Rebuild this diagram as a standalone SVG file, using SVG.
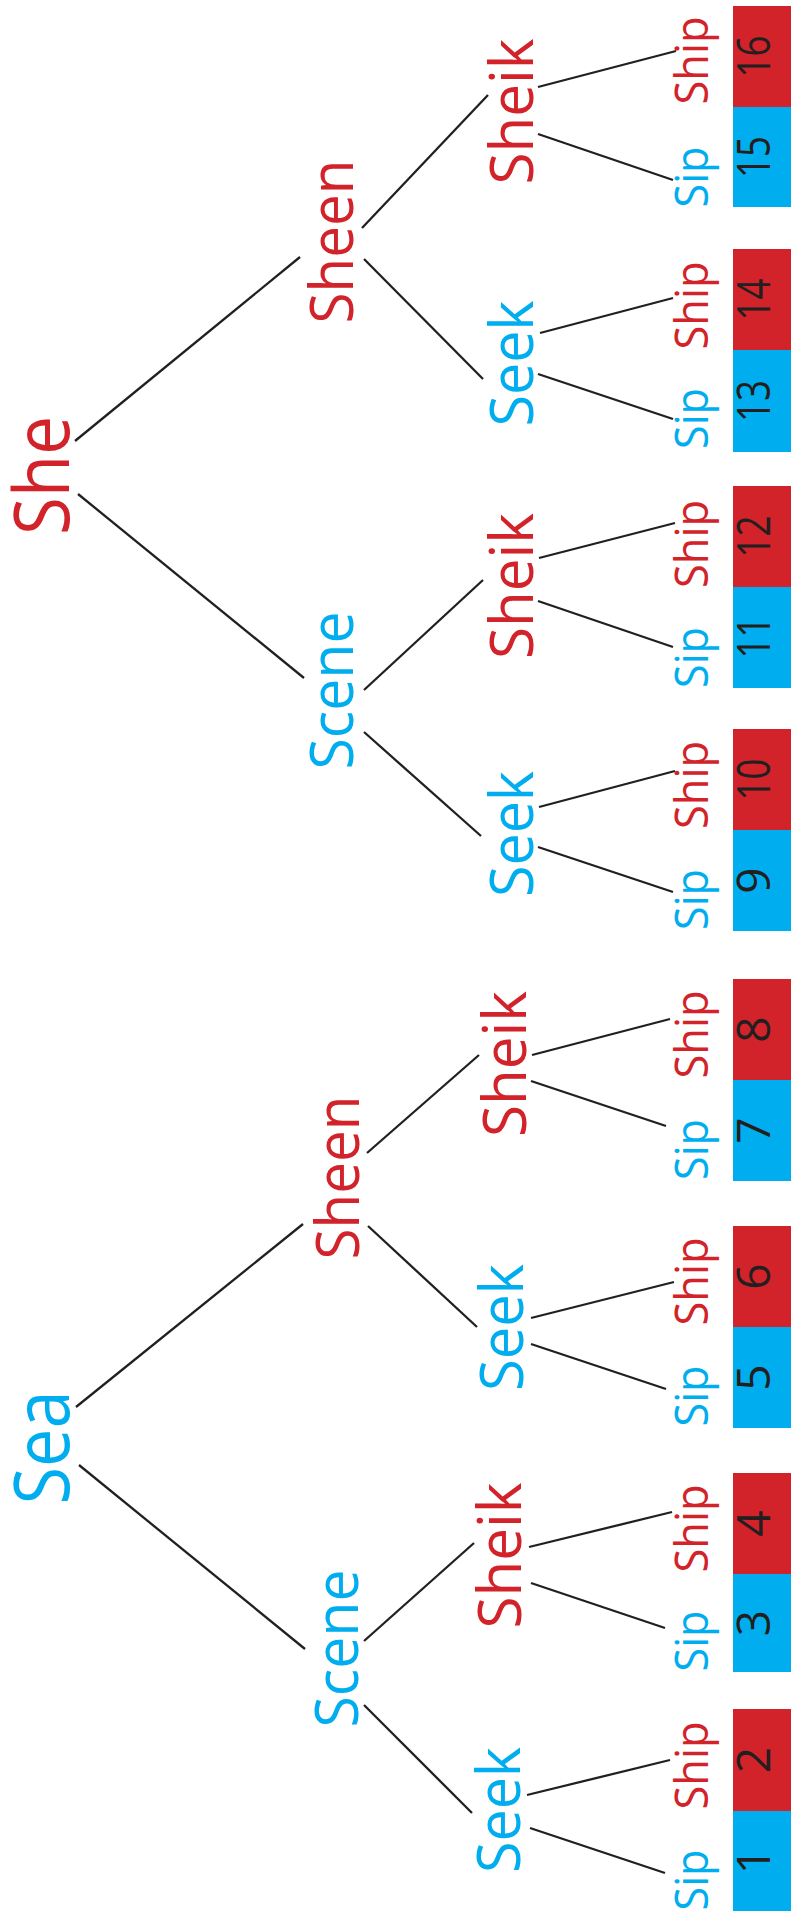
<svg xmlns="http://www.w3.org/2000/svg" width="791" height="1918" viewBox="0 0 791 1918">
<style>
text{font-family:"Open Sans","Noto Sans","DejaVu Sans",sans-serif;text-anchor:middle}
.r{fill:#d2232a}.b{fill:#00aeef}
.root{font-size:76px}.mid{font-size:61px}.leaf{font-size:45px}
.num{font-size:46px;fill:#231f20}
.br{fill:#d2232a}.bb{fill:#00aeef}
#connectors line{stroke:#231f20;stroke-width:2.3}
</style>
<rect width="791" height="1918" fill="#fff"/>
<g id="connectors">
<line x1="75" y1="441" x2="300" y2="257"/>
<line x1="78" y1="494" x2="304" y2="678"/>
<line x1="362" y1="228" x2="488" y2="95"/>
<line x1="364" y1="259" x2="483" y2="379"/>
<line x1="538" y1="87" x2="676" y2="51"/>
<line x1="538" y1="134" x2="673" y2="180"/>
<line x1="540" y1="333" x2="673" y2="298"/>
<line x1="538" y1="374" x2="673" y2="419"/>
<line x1="364" y1="690" x2="483" y2="580"/>
<line x1="364" y1="732" x2="481" y2="836"/>
<line x1="539" y1="558" x2="675" y2="523"/>
<line x1="538" y1="601" x2="673" y2="647"/>
<line x1="539" y1="807" x2="675" y2="771"/>
<line x1="538" y1="847" x2="673" y2="892"/>
<line x1="76" y1="1407" x2="303" y2="1224"/>
<line x1="79" y1="1465" x2="305" y2="1649"/>
<line x1="367" y1="1153" x2="479" y2="1055"/>
<line x1="368" y1="1226" x2="477" y2="1327"/>
<line x1="532" y1="1055" x2="670" y2="1019"/>
<line x1="531" y1="1081" x2="666" y2="1126"/>
<line x1="531" y1="1318" x2="674" y2="1282"/>
<line x1="531" y1="1344" x2="666" y2="1389"/>
<line x1="364" y1="1641" x2="474" y2="1543"/>
<line x1="364" y1="1705" x2="472" y2="1813"/>
<line x1="529" y1="1547" x2="672" y2="1512"/>
<line x1="531" y1="1583" x2="665" y2="1628"/>
<line x1="527" y1="1795" x2="670" y2="1760"/>
<line x1="530" y1="1828" x2="665" y2="1873"/>
</g>
<g id="root-she"><text class="root r" transform="translate(69,475.5) rotate(-90)" textLength="119" lengthAdjust="spacingAndGlyphs">She</text></g>
<g id="root-sea"><text class="root b" transform="translate(69,1447.5) rotate(-90)" textLength="114" lengthAdjust="spacingAndGlyphs">Sea</text></g>
<g id="n-sheen-top"><text class="mid r" transform="translate(353,241.5) rotate(-90)" textLength="164" lengthAdjust="spacingAndGlyphs">Sheen</text></g>
<g id="n-scene-top"><text class="mid b" transform="translate(353,690.5) rotate(-90)" textLength="158" lengthAdjust="spacingAndGlyphs">Scene</text></g>
<g id="n-sheen-bot"><text class="mid r" transform="translate(359,1177.5) rotate(-90)" textLength="164" lengthAdjust="spacingAndGlyphs">Sheen</text></g>
<g id="n-scene-bot"><text class="mid b" transform="translate(358,1648.5) rotate(-90)" textLength="158" lengthAdjust="spacingAndGlyphs">Scene</text></g>
<g id="n-sheik-1"><text class="mid r" transform="translate(533,111.5) rotate(-90)" textLength="146" lengthAdjust="spacingAndGlyphs">Sheik</text></g>
<g id="n-seek-1"><text class="mid b" transform="translate(533,363.5) rotate(-90)" textLength="126" lengthAdjust="spacingAndGlyphs">Seek</text></g>
<g id="n-sheik-2"><text class="mid r" transform="translate(533,586) rotate(-90)" textLength="146" lengthAdjust="spacingAndGlyphs">Sheik</text></g>
<g id="n-seek-2"><text class="mid b" transform="translate(533,834) rotate(-90)" textLength="126" lengthAdjust="spacingAndGlyphs">Seek</text></g>
<g id="n-sheik-3"><text class="mid r" transform="translate(526,1064) rotate(-90)" textLength="146" lengthAdjust="spacingAndGlyphs">Sheik</text></g>
<g id="n-seek-3"><text class="mid b" transform="translate(523,1327.5) rotate(-90)" textLength="127" lengthAdjust="spacingAndGlyphs">Seek</text></g>
<g id="n-sheik-4"><text class="mid r" transform="translate(521,1555.5) rotate(-90)" textLength="146" lengthAdjust="spacingAndGlyphs">Sheik</text></g>
<g id="n-seek-4"><text class="mid b" transform="translate(520,1810) rotate(-90)" textLength="126" lengthAdjust="spacingAndGlyphs">Seek</text></g>
<g id="leaf-16"><text class="leaf r" transform="translate(708,60.5) rotate(-90)" textLength="88" lengthAdjust="spacingAndGlyphs">Ship</text><rect class="br" x="733" y="6" width="58" height="101"/><text class="num" transform="translate(770,56.5) rotate(-90)" textLength="42" lengthAdjust="spacingAndGlyphs">16</text></g>
<g id="leaf-15"><text class="leaf b" transform="translate(708,177) rotate(-90)" textLength="61" lengthAdjust="spacingAndGlyphs">Sip</text><rect class="bb" x="733" y="107" width="58" height="100"/><text class="num" transform="translate(770,157) rotate(-90)" textLength="42" lengthAdjust="spacingAndGlyphs">15</text></g>
<g id="leaf-14"><text class="leaf r" transform="translate(708,305.5) rotate(-90)" textLength="88" lengthAdjust="spacingAndGlyphs">Ship</text><rect class="br" x="733" y="249" width="58" height="101"/><text class="num" transform="translate(770,299.5) rotate(-90)" textLength="42" lengthAdjust="spacingAndGlyphs">14</text></g>
<g id="leaf-13"><text class="leaf b" transform="translate(708,418.5) rotate(-90)" textLength="61" lengthAdjust="spacingAndGlyphs">Sip</text><rect class="bb" x="733" y="350" width="58" height="102"/><text class="num" transform="translate(770,401) rotate(-90)" textLength="42" lengthAdjust="spacingAndGlyphs">13</text></g>
<g id="leaf-12"><text class="leaf r" transform="translate(708,544) rotate(-90)" textLength="88" lengthAdjust="spacingAndGlyphs">Ship</text><rect class="br" x="733" y="486" width="58" height="101"/><text class="num" transform="translate(770,536.5) rotate(-90)" textLength="42" lengthAdjust="spacingAndGlyphs">12</text></g>
<g id="leaf-11"><text class="leaf b" transform="translate(708,657.5) rotate(-90)" textLength="61" lengthAdjust="spacingAndGlyphs">Sip</text><rect class="bb" x="733" y="587" width="58" height="101"/><text class="num" transform="translate(770,637.5) rotate(-90)" textLength="42" lengthAdjust="spacingAndGlyphs">11</text></g>
<g id="leaf-10"><text class="leaf r" transform="translate(708,785) rotate(-90)" textLength="88" lengthAdjust="spacingAndGlyphs">Ship</text><rect class="br" x="733" y="729" width="58" height="101"/><text class="num" transform="translate(770,779.5) rotate(-90)" textLength="42" lengthAdjust="spacingAndGlyphs">10</text></g>
<g id="leaf-9"><text class="leaf b" transform="translate(708,899.5) rotate(-90)" textLength="61" lengthAdjust="spacingAndGlyphs">Sip</text><rect class="bb" x="733" y="830" width="58" height="101"/><text class="num" transform="translate(770,880.5) rotate(-90)">9</text></g>
<g id="leaf-8"><text class="leaf r" transform="translate(708,1034.5) rotate(-90)" textLength="88" lengthAdjust="spacingAndGlyphs">Ship</text><rect class="br" x="733" y="979" width="58" height="101"/><text class="num" transform="translate(770,1029.5) rotate(-90)">8</text></g>
<g id="leaf-7"><text class="leaf b" transform="translate(708,1149.5) rotate(-90)" textLength="61" lengthAdjust="spacingAndGlyphs">Sip</text><rect class="bb" x="733" y="1080" width="58" height="101"/><text class="num" transform="translate(770,1130.5) rotate(-90)">7</text></g>
<g id="leaf-6"><text class="leaf r" transform="translate(708,1281.5) rotate(-90)" textLength="88" lengthAdjust="spacingAndGlyphs">Ship</text><rect class="br" x="733" y="1226" width="58" height="101"/><text class="num" transform="translate(770,1276.5) rotate(-90)">6</text></g>
<g id="leaf-5"><text class="leaf b" transform="translate(708,1396) rotate(-90)" textLength="61" lengthAdjust="spacingAndGlyphs">Sip</text><rect class="bb" x="733" y="1327" width="58" height="101"/><text class="num" transform="translate(770,1377.5) rotate(-90)">5</text></g>
<g id="leaf-4"><text class="leaf r" transform="translate(708,1528.5) rotate(-90)" textLength="88" lengthAdjust="spacingAndGlyphs">Ship</text><rect class="br" x="733" y="1473" width="58" height="101"/><text class="num" transform="translate(770,1523.5) rotate(-90)">4</text></g>
<g id="leaf-3"><text class="leaf b" transform="translate(708,1641) rotate(-90)" textLength="61" lengthAdjust="spacingAndGlyphs">Sip</text><rect class="bb" x="733" y="1574" width="58" height="98"/><text class="num" transform="translate(770,1623) rotate(-90)">3</text></g>
<g id="leaf-2"><text class="leaf r" transform="translate(708,1765.5) rotate(-90)" textLength="88" lengthAdjust="spacingAndGlyphs">Ship</text><rect class="br" x="733" y="1709" width="58" height="102"/><text class="num" transform="translate(770,1760) rotate(-90)">2</text></g>
<g id="leaf-1"><text class="leaf b" transform="translate(708,1880) rotate(-90)" textLength="61" lengthAdjust="spacingAndGlyphs">Sip</text><rect class="bb" x="733" y="1811" width="58" height="100"/><text class="num" transform="translate(770,1861) rotate(-90)">1</text></g>
</svg>
